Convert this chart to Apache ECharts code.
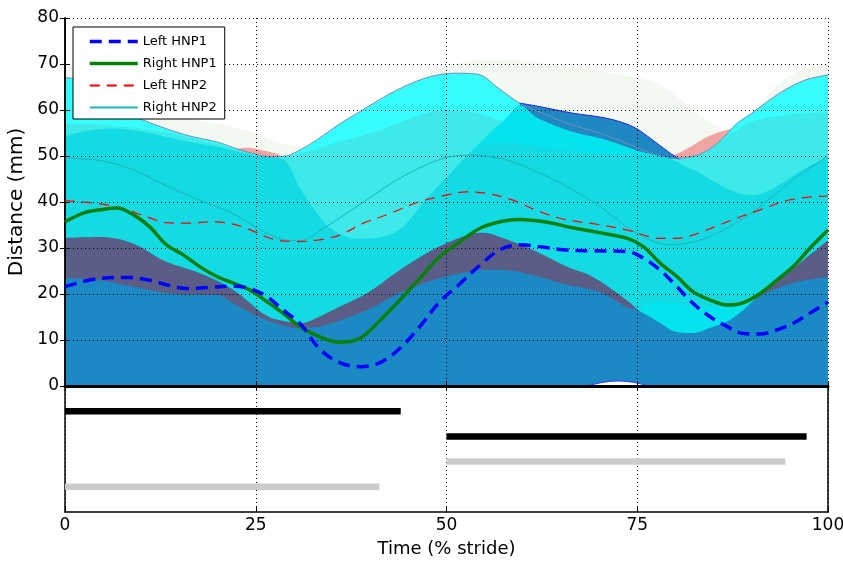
<!DOCTYPE html>
<html>
<head>
<meta charset="utf-8">
<script src="https://cdn.jsdelivr.net/npm/echarts@6/dist/echarts.min.js"></script>
<style>
html, body { margin: 0; padding: 0; background: #fff; }
#main { width: 843px; height: 562px; }
</style>
</head>
<body>
<div id="main"></div>
<script>
var FONT = 'DejaVu Sans';

// mean curves, [time %, distance mm]
var leftHnp1 = [[0,21.6],[4.6,23.4],[8.3,23.6],[11.1,23],[13.3,22],[16,21.2],[18.6,21.4],[22,21.7],[24.2,21.2],[26.5,19.4],[28.6,16.5],[30.8,13.6],[33.4,8],[36,5.1],[38.7,4.2],[41.3,5.1],[43.9,8.2],[46.5,12.9],[49.1,18.3],[51.8,22.3],[54.4,26.3],[57,29.6],[59.6,30.7],[62.2,30.3],[65.3,29.6],[69.2,29.4],[73.7,29.2],[75.8,27.8],[78,25.2],[80.2,21.6],[82.3,18],[84.5,15.1],[86.8,12.9],[88.9,11.4],[91.1,11.3],[93.3,12.2],[95.4,13.6],[97.6,15.8],[100,18.2]];
var rightHnp1 = [[0,35.7],[2.4,37.6],[4.6,38.3],[6.8,38.7],[9,37.2],[11.1,34.6],[13.3,30.7],[15.5,28.5],[17.7,25.9],[19.9,23.8],[22,22.4],[24.2,20.9],[26.5,18.3],[28.6,15.8],[30.8,12.9],[33.4,10.7],[36,9.5],[38.7,10.4],[41.3,14.3],[43.9,18.7],[46.5,23.4],[49.1,28.1],[51.8,31.4],[54.4,34.3],[57,35.7],[59.6,36.2],[63.2,35.6],[66.5,34.4],[69.5,33.5],[73.7,32.1],[75.8,30.3],[78,26.7],[80.2,23.8],[82.3,20.5],[84.5,18.7],[86.8,17.6],[88.9,18.1],[91.1,20.1],[93.3,23],[95.4,25.9],[97.6,29.9],[100,33.9]];
var leftHnp2 = [[0,40.3],[4.6,39.6],[7.6,38.6],[10.7,36.8],[13.3,35.5],[16,35.4],[19.5,35.7],[22,35.2],[24.2,34],[27.3,31.9],[30,31.4],[32.5,31.6],[36,32.8],[39.1,35.4],[42.6,37.5],[46.5,40.1],[50,41.5],[52.6,42.2],[55.2,41.9],[58.7,40.4],[62.2,37.9],[65.5,36.2],[69.2,35.3],[73.7,33.9],[78,32.1],[80.2,32.1],[82.3,32.8],[86.8,35.7],[91.1,38.3],[95.4,40.6],[100,41.3]];
var rightHnp2 = [[0,49.5],[4.6,49],[8.9,47],[13.3,43.5],[17.7,40.4],[22,37.5],[25.6,34],[28.2,32],[30.8,31.6],[33.9,34.3],[39.5,40.4],[43.5,44.8],[47.8,48.4],[51,50],[53.5,50.2],[57.9,49.1],[62.2,46.3],[66.6,42.6],[70.1,39],[73.7,34.5],[77,31.5],[79.3,30.7],[82,31.2],[84.5,32.5],[88,35.5],[91.1,39],[95.4,44.8],[100,50]];

// upper edges of the shaded spread regions, back to front
var faintTop = [[0,70],[5,66],[10,60],[15,58.5],[20,57],[25,55],[28,53],[31,52],[34,54],[40,61],[45,66],[50,69.5],[55,71],[60,70.7],[65,69.5],[70,68.5],[75,67],[78,65.5],[81,62],[84,58],[87,55.5],[90,59.5],[95,67.5],[100,70]];
var pinkTop = [[0,45],[20,49],[22,51.3],[24,51.8],[26,51.2],[28,50.3],[30,48],[40,45],[60,45],[75,47],[78,49],[80,50.3],[82,52],[84,54],[86,55.3],[88,56],[90,55],[100,50]];
var brightTop = [[0,67],[2,66.5],[5,63],[8,59.5],[11.5,57],[16,54.5],[20,53],[23,51.3],[25,50.4],[27,49.8],[29,50],[31,51.5],[33,53.5],[36,57],[39,60],[42,63],[45,65.5],[48,67.3],[51,68],[54,67.8],[57,64.5],[59.6,61.5],[63,59],[66,57],[70,55],[74,52.5],[77,50.5],[80,49.5],[82,49.8],[84,51],[86,53.5],[88,57],[90,59.3],[93.7,63.7],[97,66.5],[100,67.6]];
var blueCapTop = [[59.6,61.5],[62,60.8],[66.6,59.3],[71,58.2],[74.4,56.4],[77,53.5],[79,51],[80.5,49.3]];
var lightTop = [[0,57],[3,57],[6,56.5],[10,56],[15,54.5],[20,52.5],[24,50.8],[27,49.7],[28.5,49.6],[31,50.6],[34.7,52.5],[38,54],[41.3,55.6],[45,58],[48,59.6],[50,60],[54,59.3],[57,57.8],[59,57],[62,56],[66,54],[70,52.5],[75,50.5],[80,49.4],[82,49.8],[84,51],[86,53.3],[88,55.5],[90,57.5],[95,59],[100,59.5]];
var vividTop = [[51,47],[53,50.5],[56,55.5],[58,58.5],[59.6,61],[62,58.2],[66.6,55.2],[71,53.5],[75.4,51],[79,49.6],[82,47]];
var mainTop = [[0,54.3],[3,55.5],[6,56],[10,55.3],[15,53.5],[20,52],[25,50],[28.6,49.2],[30.8,43],[33,37.6],[35,34],[38.3,32],[41.7,32.4],[44.3,34.6],[47,40],[50,45.3],[53,50.5],[55,52.5],[58,52.8],[62,52],[66,51.3],[70,50.6],[75,50],[79,49.3],[81,48],[83,46.5],[85,44.5],[88,42],[90,41.5],[92.4,42.6],[96.7,47],[100,49.8]];
var pocketTop = [[74,16],[75.5,17.2],[77.5,18.3],[80,18],[83,17.3],[86,17.3],[88.5,18],[90.5,19.3],[92,20.5]];
var purpleTop = [[0,32.2],[4.6,32.4],[8.9,31],[13.3,27],[17.7,24.5],[22,21],[26.5,15.2],[29,14],[31,13.7],[33,14.8],[35.1,16.5],[39.6,20.2],[43.9,25.2],[48.2,29.6],[52.7,32.8],[54.8,33.3],[57,32.4],[61.3,29.6],[65.8,25.9],[69.2,23.7],[73.6,18.7],[75.5,16],[78,13],[80,11.3],[82.3,11],[84.5,12],[86.8,13.5],[88.9,16.3],[91,19.8],[93.2,22.5],[95.4,25.5],[98,29],[100,31.7]];
var deepTop = [[0,23.5],[4.6,23],[8.9,21.6],[13.3,20.2],[17.7,19.8],[20,19.8],[22,18],[26.5,14.3],[30.8,12.6],[33,12.8],[35.1,13.7],[39.6,16.5],[43.9,20.2],[48.2,23],[52.7,24.8],[55,25.2],[57,25.2],[61.3,24.1],[65.8,22],[70.1,20.4],[73.6,17.2],[75,16.5],[78,13.7],[80,11.8],[82.3,11.5],[84.5,12.6],[86.8,14],[88.9,16.5],[91,19.4],[95.4,22.4],[100,23.7]];
var whiteBump = [[68.5,0],[70.5,0.8],[72.5,1.1],[74.5,0.8],[76.5,0]];

// stance bars in the lower panel
var barRows = [4, 3, 2, 1];
var barStart = [0, 50, 50, 0];
var barEnd = [44, 97.2, 94.4, 41.2];
var barColors = ['#000000', '#000000', '#cccccc', '#cccccc'];

function layer(name, data, fill, edge) {
    return {
        name: name,
        type: 'line',
        data: data,
        smooth: 0.35,
        symbol: 'none',
        silent: true,
        z: -1,
        itemStyle: { color: fill },
        lineStyle: edge ? { color: edge, width: 1 } : { width: 0, opacity: 0 },
        areaStyle: { color: fill, opacity: 1, origin: 'start' }
    };
}

function meanLine(name, data, color, width, dash) {
    return {
        name: name,
        type: 'line',
        data: data,
        smooth: 0.35,
        symbol: 'none',
        z: 3,
        itemStyle: { color: color },
        lineStyle: { color: color, width: width, type: dash || 'solid' }
    };
}

var series = [
    layer('faint', faintTop, '#f3f9f0'),
    layer('pink', pinkTop, '#f2a4a4'),
    layer('bright', brightTop, '#36fefe', '#7090b8'),
    layer('bluecap', blueCapTop, '#1f88c2', '#2424e6'),
    layer('light', lightTop, '#3de9e9'),
    layer('vivid', vividTop, '#05e3ec'),
    layer('main', mainTop, '#14dae3'),
    layer('pocket', pocketTop, '#05e3ec'),
    layer('purple', purpleTop, '#5a5e86'),
    layer('deep', deepTop, '#1b89c3'),
    layer('bump', whiteBump, '#ffffff', '#3030ff'),
    meanLine('Right HNP2', rightHnp2, '#1fb3b5', 1),
    meanLine('Left HNP2', leftHnp2, '#ff0000', 1.2, [10, 7]),
    meanLine('Right HNP1', rightHnp1, '#0a800a', 3.5),
    meanLine('Left HNP1', leftHnp1, '#0000ff', 3.5, [12, 7])
];

for (var i = 0; i < barRows.length; i++) {
    series.push({
        type: 'line',
        xAxisIndex: 2,
        yAxisIndex: 2,
        data: [[barStart[i], barRows[i]], [barEnd[i], barRows[i]]],
        symbol: 'none',
        silent: true,
        lineStyle: { color: barColors[i], width: 6.5, cap: 'butt' }
    });
}

var dotted = { color: '#000', type: [1, 3], width: 1 };
var tickIn = { show: true, inside: true, length: 5, lineStyle: { color: '#000' } };

var option = {
    animation: false,
    grid: [
        { left: 65, right: 15, top: 18, height: 368, outerBoundsMode: 'none' },
        { left: 65, right: 15, top: 386, height: 126, outerBoundsMode: 'none' }
    ],
    legend: {
        data: [
            { name: 'Left HNP1', lineStyle: { width: 3.5 } },
            { name: 'Right HNP1', lineStyle: { width: 3.5 } },
            'Left HNP2',
            'Right HNP2'
        ],
        orient: 'vertical',
        left: 73,
        top: 27,
        padding: [8, 8, 5, 15],
        itemWidth: 48,
        itemHeight: 14,
        itemGap: 9,
        itemStyle: { opacity: 0 },
        backgroundColor: '#fff',
        borderColor: '#000',
        borderWidth: 1,
        selectedMode: false,
        textStyle: { fontFamily: FONT, fontSize: 13, color: '#000' }
    },
    xAxis: [
        { gridIndex: 0, type: 'value', min: 0, max: 100, interval: 25, position: 'bottom',
          axisLine: { lineStyle: { color: '#000', width: 3 } }, axisTick: tickIn,
          axisLabel: { show: false }, splitLine: { show: true, lineStyle: dotted } },
        { gridIndex: 0, type: 'value', min: 0, max: 100, interval: 25, position: 'top',
          axisLine: { lineStyle: { color: '#000', width: 1, type: [1, 2] } }, axisTick: tickIn,
          axisLabel: { show: false }, splitLine: { show: false } },
        { gridIndex: 1, type: 'value', min: 0, max: 100, interval: 25, position: 'bottom',
          axisLine: { lineStyle: { color: '#000', width: 1.5 } }, axisTick: tickIn,
          axisLabel: { color: '#000', fontFamily: FONT, fontSize: 17, margin: 5 },
          splitLine: { show: true, lineStyle: dotted },
          name: 'Time (% stride)', nameLocation: 'middle', nameGap: 28,
          nameTextStyle: { color: '#000', fontFamily: FONT, fontSize: 18 } }
    ],
    yAxis: [
        { gridIndex: 0, type: 'value', min: 0, max: 80, interval: 10, position: 'left',
          axisLine: { show: true, lineStyle: { color: '#000', width: 1.5 } }, axisTick: tickIn,
          axisLabel: { color: '#000', fontFamily: FONT, fontSize: 17, margin: 6 },
          splitLine: { show: true, lineStyle: dotted },
          name: 'Distance (mm)', nameLocation: 'middle', nameGap: 31,
          nameTextStyle: { color: '#000', fontFamily: FONT, fontSize: 20 } },
        { gridIndex: 0, type: 'value', min: 0, max: 80, interval: 10, position: 'right',
          axisLine: { show: true, lineStyle: { color: '#000', width: 1.5 } }, axisTick: tickIn,
          axisLabel: { show: false }, splitLine: { show: false } },
        { gridIndex: 1, type: 'value', min: 0, max: 5, interval: 1, position: 'left',
          axisLine: { show: true, lineStyle: { color: '#000', width: 1.5 } }, axisTick: { show: false },
          axisLabel: { show: false }, splitLine: { show: false } },
        { gridIndex: 1, type: 'value', min: 0, max: 5, interval: 1, position: 'right',
          axisLine: { show: true, lineStyle: { color: '#000', width: 1.5 } }, axisTick: { show: false },
          axisLabel: { show: false }, splitLine: { show: false } }
    ],
    series: series
};

var myChart = echarts.init(document.getElementById('main'));
myChart.setOption(option);
</script>
</body>
</html>
